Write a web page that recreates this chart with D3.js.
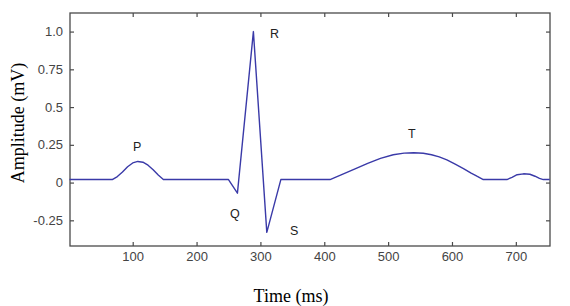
<!DOCTYPE html>
<html><head><meta charset="utf-8">
<script src="https://cdn.jsdelivr.net/npm/d3@7"></script>
<style>body{margin:0;background:#fff;} svg{display:block;}</style>
</head><body>
<svg id="c" width="570" height="306"></svg>
<script>
// ECG waveform samples (time ms, amplitude mV)
const timeMs = [1, 68, 76, 84, 92, 100, 108, 116, 124, 132, 140, 148,
  250, 264, 289, 310, 332,
  409, 430, 450, 468, 488, 508, 525, 540, 555, 568, 580, 592, 605, 618, 630, 639, 649,
  686, 694, 702, 712, 722, 730, 737, 743, 753];
const amplitude = [0.02, 0.02, 0.04, 0.07, 0.105, 0.13, 0.14, 0.135, 0.115, 0.085, 0.05, 0.02,
  0.02, -0.07, 1.0, -0.33, 0.02,
  0.02, 0.058, 0.094, 0.127, 0.16, 0.184, 0.195, 0.198, 0.194, 0.184, 0.17, 0.15, 0.122, 0.093, 0.063, 0.042, 0.02,
  0.02, 0.035, 0.052, 0.058, 0.055, 0.042, 0.028, 0.02, 0.02];
const xTicks = [100, 200, 300, 400, 500, 600, 700];
const yTicks = [-0.25, 0, 0.25, 0.5, 0.75, 1.0];
const yTickLabels = ["-0.25", "0", "0.25", "0.5", "0.75", "1.0"];
const waveNames = ["P", "Q", "R", "S", "T"];
const waveLabelT = [107, 260, 322, 353, 537];
const waveLabelA = [0.21, -0.235, 0.957, -0.35, 0.295];

const svg = d3.select("#c");
const L = 70, R = 550, T = 13, B = 246;
const x = d3.scaleLinear().domain([1.8, 753.5]).range([L, R]);
const y = d3.scaleLinear().domain([-0.42, 1.123]).range([B, T]);

const axisCol = "#4a4a4a";
const tickFont = "'Liberation Sans', Arial, sans-serif";

// Frame
svg.append("rect").attr("x", L).attr("y", T).attr("width", R - L).attr("height", B - T)
  .attr("fill", "none").attr("stroke", axisCol).attr("stroke-width", 1.3);

function styleAxis(g) {
  g.select(".domain").remove();
  g.selectAll(".tick line").attr("stroke", axisCol).attr("stroke-width", 1.2);
  g.selectAll(".tick text").attr("fill", "#444").style("font-family", tickFont).style("font-size", "13px");
}
// bottom
svg.append("g").attr("transform", `translate(0,${B})`)
  .call(d3.axisBottom(x).tickValues(xTicks).tickSizeInner(-4).tickSizeOuter(0).tickPadding(6).tickFormat(d3.format("d")))
  .call(styleAxis);
// top
svg.append("g").attr("transform", `translate(0,${T})`)
  .call(d3.axisTop(x).tickValues(xTicks).tickSizeInner(-4).tickSizeOuter(0).tickFormat(""))
  .call(styleAxis);
// left
svg.append("g").attr("transform", `translate(${L},0)`)
  .call(d3.axisLeft(y).tickValues(yTicks).tickSizeInner(-4).tickSizeOuter(0).tickPadding(7)
    .tickFormat((d, i) => yTickLabels[i]))
  .call(styleAxis);
// right
svg.append("g").attr("transform", `translate(${R},0)`)
  .call(d3.axisRight(y).tickValues(yTicks).tickSizeInner(-4).tickSizeOuter(0).tickFormat(""))
  .call(styleAxis);

// Line
const pts = timeMs.map((t, i) => [t, amplitude[i]]);
const line = d3.line().x(d => x(d[0])).y(d => y(d[1]));
svg.append("path").attr("d", line(pts)).attr("fill", "none")
  .attr("stroke", "#3a3aa8").attr("stroke-width", 1.4).attr("stroke-linejoin", "round");

// Wave labels
svg.selectAll("text.wave").data(waveNames).enter().append("text")
  .attr("class", "wave")
  .attr("x", (d, i) => x(waveLabelT[i])).attr("y", (d, i) => y(waveLabelA[i]))
  .attr("text-anchor", "middle")
  .style("font-family", tickFont).style("font-size", "12.5px").attr("fill", "#222")
  .text(d => d);

// Axis titles
svg.append("text").attr("x", 291).attr("y", 301.5).attr("text-anchor", "middle")
  .style("font-family", "'Liberation Serif', 'Times New Roman', serif").style("font-size", "18px")
  .attr("fill", "#000").text("Time (ms)");
svg.append("text").attr("transform", "translate(24,123) rotate(-90)").attr("text-anchor", "middle")
  .style("font-family", "'Liberation Serif', 'Times New Roman', serif").style("font-size", "18px")
  .attr("fill", "#000").text("Amplitude (mV)");
</script>
</body></html>
